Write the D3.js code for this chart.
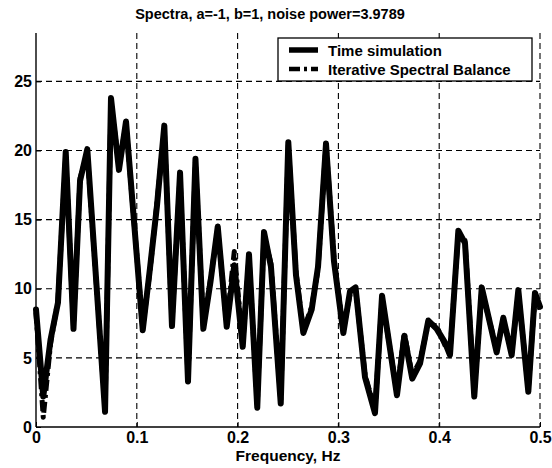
<!DOCTYPE html>
<html>
<head>
<meta charset="utf-8">
<script src="https://cdn.jsdelivr.net/npm/d3@7/dist/d3.min.js"></script>
<style>
  html, body { margin: 0; padding: 0; background: #fff; }
  svg text { font-family: "Liberation Sans", Arial, Helvetica, sans-serif; font-weight: bold; fill: #000; }
</style>
</head>
<body>
<div id="chart"></div>
<script>
// frequency points (Hz)
const freq = [0, 0.0072, 0.0144, 0.0218, 0.0295, 0.0372, 0.0437, 0.0509, 0.0685, 0.0744,
  0.0823, 0.0893, 0.1059, 0.1131, 0.1200, 0.1273, 0.1349, 0.1429, 0.1508, 0.1582,
  0.1660, 0.1731, 0.1803, 0.1892, 0.1967, 0.2051, 0.2113, 0.2195, 0.2262, 0.2331,
  0.2428, 0.2503, 0.2579, 0.2652, 0.2735, 0.2798, 0.2877, 0.2956, 0.3049, 0.3115,
  0.3170, 0.3264, 0.3363, 0.3433, 0.3581, 0.3654, 0.3733, 0.3810, 0.3892, 0.3975,
  0.4058, 0.4107, 0.4190, 0.4256, 0.4348, 0.4422, 0.4570, 0.4636, 0.4719, 0.4785,
  0.4884, 0.4950, 0.5];

const timeSim = [8.5, 2.2, 6.3, 9.0, 19.9, 7.1, 17.8, 20.1, 1.1, 23.8,
  18.6, 22.1, 7.0, 11.5, 16.0, 21.8, 7.3, 18.4, 3.3, 19.4,
  7.1, 10.5, 14.5, 7.25, 11.7, 5.8, 12.5, 1.4, 14.1, 11.6,
  1.7, 20.6, 11.0, 6.8, 8.5, 11.6, 20.5, 12.0, 6.8, 9.8,
  10.1, 3.6, 1.0, 9.5, 2.3, 6.6, 3.5, 4.6, 7.7, 7.1,
  6.1, 5.2, 14.2, 13.3, 2.2, 10.1, 5.4, 7.9, 5.2, 9.9,
  2.55, 9.7, 8.7];

const spectralBalance = [8.3, 0.7, 6.0, 9.2, 19.6, 7.3, 18.0, 19.8, 1.3, 23.5,
  18.9, 21.9, 7.2, 11.3, 16.2, 21.5, 7.5, 18.2, 3.5, 19.2,
  7.3, 10.7, 14.3, 7.4, 12.7, 6.0, 12.3, 1.6, 13.9, 11.8,
  1.9, 20.4, 11.2, 7.0, 8.7, 11.4, 20.5, 12.2, 7.0, 9.6,
  10.0, 3.8, 1.2, 9.3, 2.5, 6.8, 3.7, 4.8, 7.5, 7.3,
  5.9, 5.4, 14.0, 13.5, 2.4, 9.9, 5.6, 7.7, 5.4, 9.7,
  2.75, 9.5, 8.5];

const xTicks = [0, 0.1, 0.2, 0.3, 0.4, 0.5];
const yTicks = [0, 5, 10, 15, 20, 25];
const seriesNames = ["Time simulation", "Iterative Spectral Balance"];

const W = 552, H = 468;
const margin = { left: 36, right: 12, top: 33, bottom: 41 };

const svg = d3.select("#chart").append("svg")
  .attr("width", W)
  .attr("height", H);

const x = d3.scaleLinear().domain([0, 0.5]).range([margin.left, W - margin.right]);
const y = d3.scaleLinear().domain([0, 28.5]).range([H - margin.bottom, margin.top]);

// grid
const grid = svg.append("g").attr("stroke", "#000").attr("stroke-width", 1.1).attr("stroke-dasharray", "6,4");
grid.selectAll(".hg").data(yTicks.filter(d => d > 0)).enter().append("line")
  .attr("x1", x(0)).attr("x2", x(0.5))
  .attr("y1", d => y(d)).attr("y2", d => y(d));
grid.selectAll(".vg").data(xTicks.filter(d => d > 0)).enter().append("line")
  .attr("x1", d => x(d)).attr("x2", d => x(d))
  .attr("y1", y(28.5)).attr("y2", y(0));

// axes
const xAxis = d3.axisBottom(x).tickValues(xTicks).tickSize(-5).tickPadding(5).tickFormat(d => String(d));
const yAxis = d3.axisLeft(y).tickValues(yTicks).tickSize(-5).tickPadding(4);

const gx = svg.append("g").attr("transform", `translate(0,${y(0)})`).call(xAxis);
const gy = svg.append("g").attr("transform", `translate(${x(0)},0)`).call(yAxis);
[gx, gy].forEach(g => {
  g.select(".domain").attr("stroke", "#000").attr("stroke-width", 1.4);
  g.selectAll(".tick line").attr("stroke", "#000");
  g.selectAll(".tick text").attr("font-size", 16).attr("font-weight", "bold")
    .attr("font-family", "Liberation Sans, Arial, sans-serif");
});
gx.select(".domain").attr("d", `M${x(0)},0H${x(0.5)}`);
gy.select(".domain").attr("d", `M0,${y(0)}V${y(28.5)}`);

// lines
const line = d3.line().x(d => x(d[0])).y(d => y(d[1]));
const timeData = freq.map((f, i) => [f, timeSim[i]]);
const isbData = freq.map((f, i) => [f, spectralBalance[i]]);

svg.append("path").datum(timeData)
  .attr("d", line)
  .attr("fill", "none").attr("stroke", "#000").attr("stroke-width", 6)
  .attr("stroke-linejoin", "round").attr("stroke-linecap", "round");

svg.append("path").datum(isbData)
  .attr("d", line)
  .attr("fill", "none").attr("stroke", "#000").attr("stroke-width", 5)
  .attr("stroke-dasharray", "11,4,3,4")
  .attr("stroke-linejoin", "round");

// title
svg.append("text")
  .attr("x", 270).attr("y", 19)
  .attr("text-anchor", "middle")
  .attr("font-size", 14.5)
  .text("Spectra, a=-1, b=1, noise power=3.9789");

// x label
svg.append("text")
  .attr("x", 288).attr("y", 461)
  .attr("text-anchor", "middle")
  .attr("font-size", 15.5)
  .text("Frequency, Hz");

// legend
const lg = svg.append("g");
lg.append("rect")
  .attr("x", 278).attr("y", 38).attr("width", 254).attr("height", 43)
  .attr("fill", "#fff").attr("stroke", "#000").attr("stroke-width", 1.3);
const rows = [50, 69];
lg.append("line").attr("x1", 289).attr("x2", 318).attr("y1", rows[0]).attr("y2", rows[0])
  .attr("stroke", "#000").attr("stroke-width", 5.5);
lg.append("line").attr("x1", 289).attr("x2", 318).attr("y1", rows[1]).attr("y2", rows[1])
  .attr("stroke", "#000").attr("stroke-width", 4.5).attr("stroke-dasharray", "11,4,3,4");
lg.selectAll(".lt").data(seriesNames).enter().append("text")
  .attr("x", 328).attr("y", (d, i) => rows[i] + 5.5)
  .attr("font-size", 15)
  .text(d => d);
</script>
</body>
</html>
